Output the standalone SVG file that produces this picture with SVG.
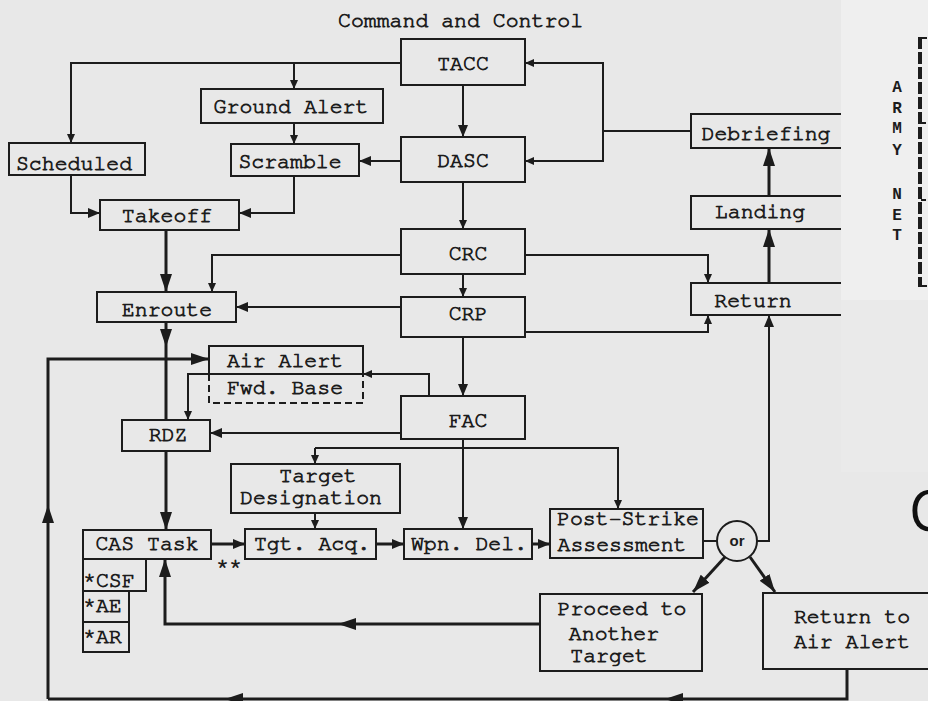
<svg xmlns="http://www.w3.org/2000/svg" width="928" height="701" viewBox="0 0 928 701">
<style>
.bx{fill:none;stroke:#1c1c1c;stroke-width:2}
.ln{fill:none;stroke:#1c1c1c;stroke-width:2}
.tk{fill:none;stroke:#1c1c1c;stroke-width:3}
.t{font-family:"Nimbus Mono PS","Nimbus Mono L","FreeMono","Courier New","Liberation Mono",monospace;font-size:21.5px;fill:#1c1c1c;stroke:#1c1c1c;stroke-width:0.8;text-anchor:middle}
.ts{font-family:"Nimbus Mono PS","Nimbus Mono L","FreeMono","Courier New","Liberation Mono",monospace;font-size:21.5px;fill:#1c1c1c;stroke:#1c1c1c;stroke-width:0.8}
.an{font-family:"Liberation Sans",Arial,sans-serif;font-size:15px;font-weight:bold;fill:#1c1c1c;text-anchor:middle}
</style>
<defs>
<marker id="s" markerUnits="userSpaceOnUse" markerWidth="9" markerHeight="8" refX="9" refY="4" orient="auto"><path d="M0,0 L9,4 L0,8 z" fill="#1c1c1c"/></marker>
<marker id="m" markerUnits="userSpaceOnUse" markerWidth="12" markerHeight="10" refX="12" refY="5" orient="auto"><path d="M0,0 L12,5 L0,10 z" fill="#1c1c1c"/></marker>
<marker id="b" markerUnits="userSpaceOnUse" markerWidth="18" markerHeight="12" refX="18" refY="6" orient="auto"><path d="M0,0 L18,6 L0,12 z" fill="#1c1c1c"/></marker>
</defs>
<rect x="0" y="0" width="928" height="701" fill="#e8e8e8"/>
<text x="338" y="27" class="ts">Command and Control</text>
<g id="connectors">
<path class="ln" d="M401,63 H71 V143" marker-end="url(#s)"/>
<path class="ln" d="M294,63 V89" marker-end="url(#s)"/>
<path class="ln" d="M294,123 V144" marker-end="url(#s)"/>
<path class="ln" d="M401,161 H359" marker-end="url(#m)"/>
<path class="ln" d="M71,175 V213 H100" marker-end="url(#m)"/>
<path class="ln" d="M294,176 V213 H239" marker-end="url(#m)"/>
<path class="tk" d="M166,230 V292" marker-end="url(#b)"/>
<path class="ln" d="M463,85 V137" marker-end="url(#m)"/>
<path class="ln" d="M463,182 V229" marker-end="url(#s)"/>
<path class="ln" d="M463,274 V297" marker-end="url(#s)"/>
<path class="ln" d="M463,337 V396" marker-end="url(#m)"/>
<path class="ln" d="M401,255 H212 V292" marker-end="url(#s)"/>
<path class="ln" d="M401,307 H236" marker-end="url(#m)"/>
<path class="tk" d="M166,322 V347" marker-end="url(#b)"/>
<path class="tk" d="M166,347 V420"/>
<path class="tk" d="M48,699 V505" marker-end="url(#b)"/>
<path class="tk" d="M48,505 V359 H209" marker-end="url(#b)"/>
<path class="ln" d="M429,396 V374 H363" marker-end="url(#s)"/>
<path class="ln" d="M209,374 H188 V420" marker-end="url(#s)"/>
<path class="ln" d="M401,433 H210" marker-end="url(#m)"/>
<path class="tk" d="M166,451 V530" marker-end="url(#b)"/>
<path class="ln" d="M463,439 V529" marker-end="url(#m)"/>
<path class="ln" d="M315,448 H618 V509" marker-end="url(#s)"/>
<path class="ln" d="M315,448 V464" marker-end="url(#s)"/>
<path class="ln" d="M315,513 V529" marker-end="url(#s)"/>
<path class="tk" d="M211,544 H245" marker-end="url(#m)"/>
<path class="tk" d="M376,544 H404" marker-end="url(#m)"/>
<path class="tk" d="M532,544 H550" marker-end="url(#m)"/>
<path class="ln" d="M703,541 H717"/>
<path class="ln" d="M757,541 H769 V315" marker-end="url(#m)"/>
<path class="tk" d="M769,283 V229" marker-end="url(#b)"/>
<path class="tk" d="M769,196 V148" marker-end="url(#b)"/>
<path class="ln" d="M691,131 H603"/>
<path class="ln" d="M603,131 V63 H525" marker-end="url(#s)"/>
<path class="ln" d="M603,131 V161 H525" marker-end="url(#s)"/>
<path class="ln" d="M525,255 H708 V283" marker-end="url(#s)"/>
<path class="ln" d="M525,332 H708 V315" marker-end="url(#s)"/>
<path class="tk" d="M725,557 L693,592" marker-end="url(#b)"/>
<path class="tk" d="M750,557 L775,592" marker-end="url(#b)"/>
<path class="tk" d="M540,624 H338" marker-end="url(#b)"/>
<path class="tk" d="M338,624 H165 V559" marker-end="url(#b)"/>
<path class="tk" d="M847,669 V699 H665" marker-end="url(#b)"/>
<path class="tk" d="M665,699 H225" marker-end="url(#b)"/>
<path class="tk" d="M225,699 H48"/>
</g>
<g id="tacc"><rect class="bx" x="401" y="39" width="124" height="46"/><text class="t" x="463" y="70">TACC</text></g>
<g id="dasc"><rect class="bx" x="401" y="137" width="124" height="45"/><text class="t" x="463" y="167">DASC</text></g>
<g id="crc"><rect class="bx" x="401" y="229" width="124" height="45"/><text class="t" x="468" y="260">CRC</text></g>
<g id="crp"><rect class="bx" x="401" y="297" width="124" height="40"/><text class="t" x="468" y="320">CRP</text></g>
<g id="fac"><rect class="bx" x="401" y="396" width="124" height="43"/><text class="t" x="468" y="427">FAC</text></g>
<g id="ground-alert"><rect class="bx" x="201" y="89" width="182" height="34"/><text class="t" x="291" y="113">Ground Alert</text></g>
<g id="scheduled"><rect class="bx" x="9" y="143" width="136" height="32"/><text class="t" x="74" y="170">Scheduled</text></g>
<g id="scramble"><rect class="bx" x="231" y="144" width="128" height="32"/><text class="t" x="290" y="168">Scramble</text></g>
<g id="takeoff"><rect class="bx" x="100" y="200" width="139" height="30"/><text class="t" x="167" y="222">Takeoff</text></g>
<g id="enroute"><rect class="bx" x="97" y="292" width="139" height="30"/><text class="t" x="167" y="316">Enroute</text></g>
<g id="air-alert"><path class="bx" d="M209,374 V346 H363 V374 Z"/><path class="bx" stroke-dasharray="7,4" d="M209,374 V403 H363 V374"/><text class="t" x="285" y="367">Air Alert</text><text class="t" x="285" y="394">Fwd. Base</text></g>
<g id="rdz"><rect class="bx" x="122" y="420" width="88" height="31"/><text class="t" x="168" y="441">RDZ</text></g>
<g id="target-designation"><rect class="bx" x="231" y="464" width="169" height="49"/><text class="t" x="318" y="482">Target</text><text class="t" x="311" y="504">Designation</text></g>
<g id="cas-task"><rect class="bx" x="83" y="530" width="128" height="29"/><text class="t" x="147" y="550">CAS Task</text>
<rect class="bx" x="83" y="559" width="63" height="32"/><text class="ts" x="83" y="587">*CSF</text>
<rect class="bx" x="83" y="591" width="46" height="31"/><text class="ts" x="83" y="612">*AE</text>
<rect class="bx" x="83" y="622" width="46" height="30"/><text class="ts" x="83" y="643">*AR</text></g>
<text class="ts" x="216" y="573">**</text>
<g id="tgt-acq"><rect class="bx" x="245" y="529" width="131" height="30"/><text class="t" x="312" y="550">Tgt. Acq.</text></g>
<g id="wpn-del"><rect class="bx" x="404" y="529" width="128" height="30"/><text class="t" x="469" y="550">Wpn. Del.</text></g>
<g id="post-strike"><rect class="bx" x="550" y="509" width="153" height="49"/><text class="t" x="628" y="525">Post-Strike</text><text class="t" x="622" y="551">Assessment</text></g>
<g id="or"><circle class="bx" cx="737" cy="541" r="20"/><text class="an" x="737" y="546">or</text></g>
<g id="proceed"><rect class="bx" x="540" y="594" width="162" height="77"/><text class="t" x="622" y="615">Proceed to</text><text class="t" x="614" y="640">Another</text><text class="t" x="609" y="662">Target</text></g>
<g id="return-air-alert"><rect class="bx" x="763" y="593" width="180" height="76"/><text class="t" x="852" y="623">Return to</text><text class="t" x="852" y="648">Air Alert</text></g>
<g id="debriefing"><rect class="bx" x="691" y="114" width="170" height="34"/><text class="t" x="766" y="140">Debriefing</text></g>
<g id="landing"><rect class="bx" x="691" y="196" width="170" height="33"/><text class="t" x="760" y="218">Landing</text></g>
<g id="return"><rect class="bx" x="691" y="283" width="170" height="32"/><text class="t" x="753" y="307">Return</text></g>
<rect x="841" y="0" width="87" height="472" fill="#efefef"/>
<rect x="841" y="300" width="87" height="172" fill="#eaeaea"/>
<g id="army-net" font-family="Liberation Mono, monospace" font-size="16" font-weight="bold" fill="#1c1c1c" text-anchor="middle">
<text x="897" y="92">A</text><text x="897" y="113">R</text><text x="897" y="133">M</text><text x="897" y="155">Y</text>
<text x="897" y="199">N</text><text x="897" y="220">E</text><text x="897" y="240">T</text>
<path d="M920,37 V287" stroke="#1c1c1c" stroke-width="4" stroke-dasharray="12,3" fill="none"/>
<path d="M921,38 H927 M921,123 H926 M921,200 H926 M921,286 H927" stroke="#1c1c1c" stroke-width="2" fill="none"/>
</g>
<text x="909" y="531" font-family="Open Sans, Liberation Sans, sans-serif" font-size="56" fill="#111">C</text>
</svg>
